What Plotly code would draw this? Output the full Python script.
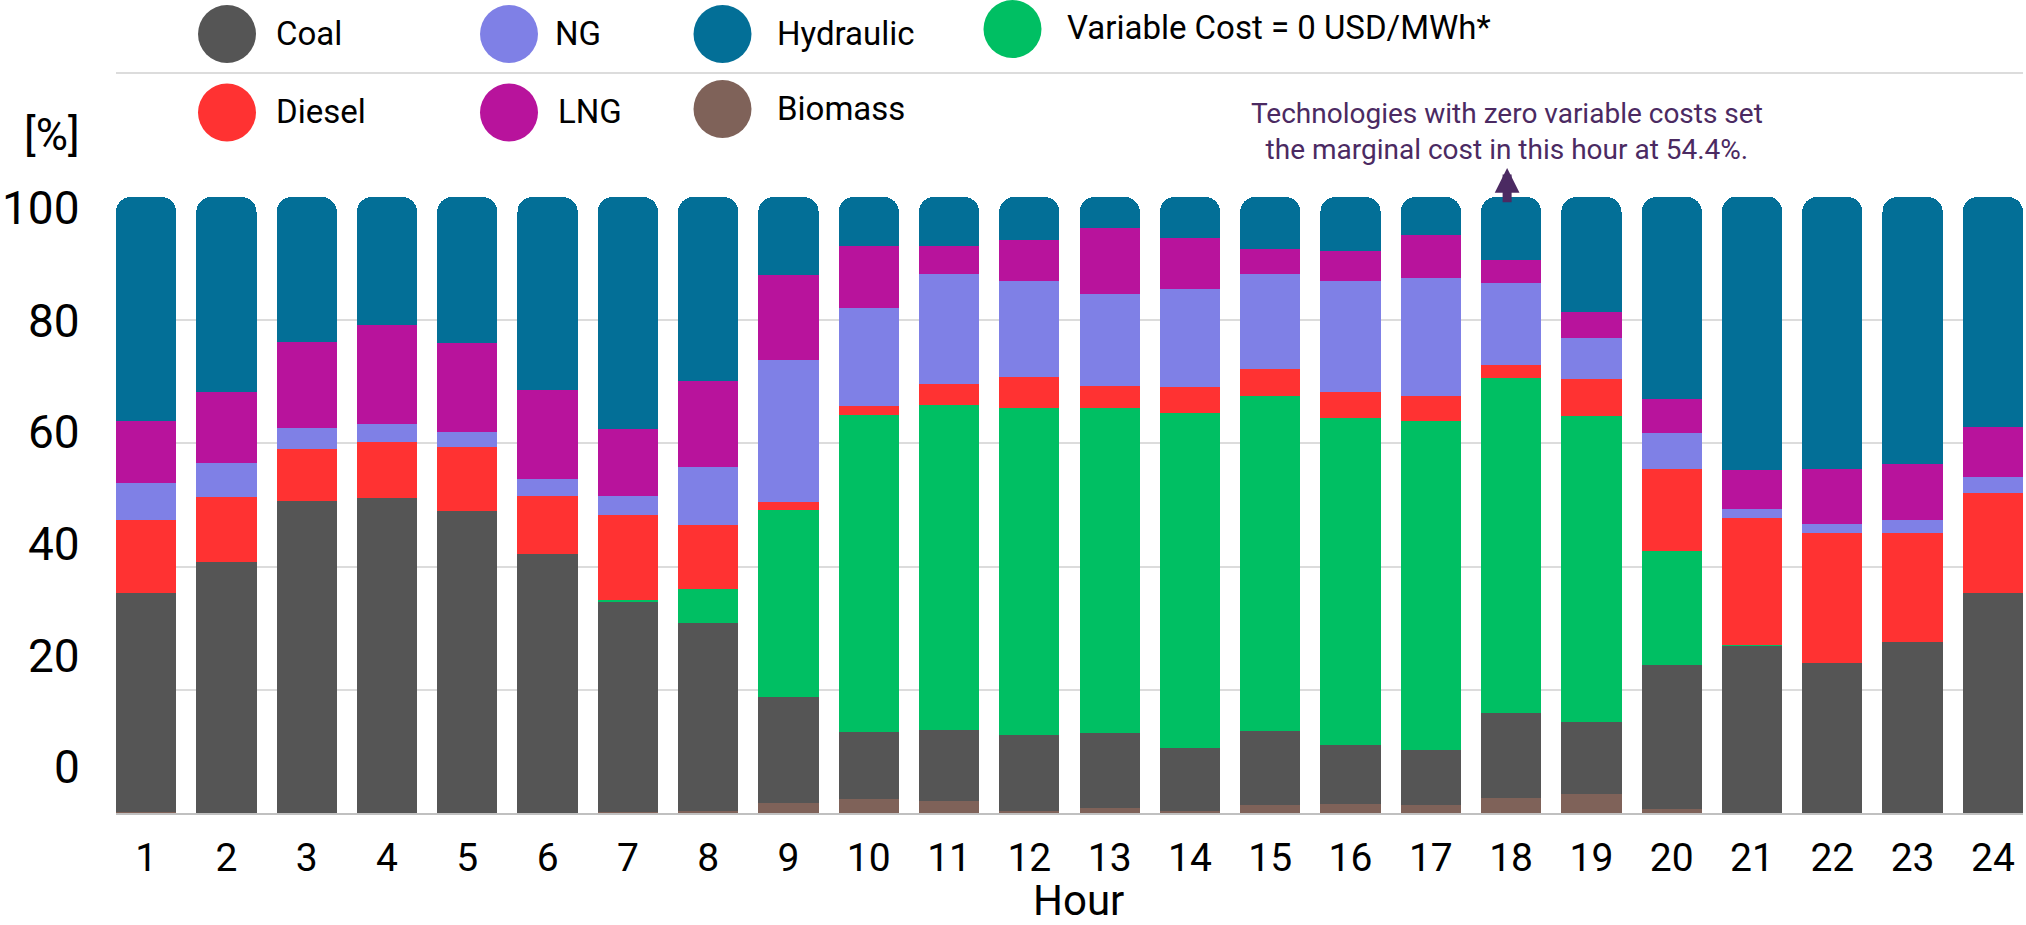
import plotly.graph_objects as go

# ---------------- data ----------------
hours = list(range(1, 25))
series_names = ["Biomass", "Coal", "Variable Cost = 0 USD/MWh*", "Diesel", "NG", "LNG", "Hydraulic"]

biomass = [0.1, 0, 0, 0, 0, 0, 0.1, 0.3, 1.7, 2.2, 1.9, 0.3, 0.8, 0.3, 1.3, 1.5, 1.3, 2.4, 3.1, 0.6, 0, 0, 0, 0]
coal = [35.6, 40.7, 50.6, 51.2, 49.0, 42.1, 34.2, 30.6, 17.1, 11.0, 11.6, 12.4, 12.2, 10.3, 12.0, 9.6, 9.0, 13.8, 11.7, 23.5, 27.2, 24.3, 27.7, 35.7]
vc0 = [0, 0, 0, 0, 0, 0, 0.3, 5.4, 30.4, 51.4, 52.8, 53.0, 52.7, 54.4, 54.4, 53.0, 53.4, 54.4, 49.6, 18.4, 0.1, 0, 0, 0]
diesel = [11.8, 10.6, 8.5, 9.1, 10.4, 9.4, 13.8, 10.4, 1.3, 1.4, 3.4, 5.1, 3.7, 4.1, 4.3, 4.2, 4.0, 2.2, 6.0, 13.3, 20.6, 21.1, 17.7, 16.2]
ng = [6.1, 5.6, 3.4, 2.8, 2.5, 2.7, 3.1, 9.4, 23.0, 16.0, 17.8, 15.5, 14.9, 16.0, 15.5, 18.0, 19.2, 13.2, 6.7, 5.9, 1.4, 1.5, 2.1, 2.7]
lng = [10.1, 11.4, 13.9, 16.1, 14.4, 14.4, 10.8, 14.0, 13.9, 10.1, 4.6, 6.7, 10.6, 8.3, 4.0, 5.0, 7.0, 3.7, 4.2, 5.5, 6.4, 9.0, 9.1, 8.0]
hydraulic = [36.3, 31.7, 23.6, 20.8, 23.7, 31.4, 37.7, 29.9, 12.6, 7.9, 7.9, 7.0, 5.1, 6.6, 8.5, 8.7, 6.1, 10.3, 18.7, 32.8, 44.4, 44.1, 43.4, 37.4]

series_values = [biomass, coal, vc0, diesel, ng, lng, hydraulic]
y_ticks = [0, 20, 40, 60, 80, 100]
y_tick_text = ["0", "20", "40", "60", "80", "100"]
marginal_hour = 18
marginal_share = 54.4

# ---------------- styles ----------------
colors = {
    "Biomass": "#7f6259",
    "Coal": "#555555",
    "Variable Cost = 0 USD/MWh*": "#00bf63",
    "Diesel": "#ff3232",
    "NG": "#7f80e6",
    "LNG": "#b8139c",
    "Hydraulic": "#036f97",
}
FONT = "Roboto"
W, H = 2026, 925
L, R, T, B = 116, 3, 197, 112
PW, PH = W - L - R, H - T - B


def px_x(px):
    return (px - L) / PW


def px_y(py):
    return (H - B - py) / PH


fig = go.Figure()
for name, vals in zip(series_names, series_values):
    fig.add_trace(go.Bar(
        x=hours, y=vals, name=name,
        marker=dict(color=colors[name], line=dict(width=0)),
        showlegend=False,
    ))

# ---------------- custom legend ----------------
legend_items = [
    ("Coal", 227, 34, 274, 33),
    ("NG", 509, 34, 553, 33),
    ("Hydraulic", 722.5, 34, 775, 33),
    ("Variable Cost = 0 USD/MWh*", 1012.5, 29, 1065, 27),
    ("Diesel", 227, 112.5, 274, 111),
    ("LNG", 509, 112.5, 556, 111),
    ("Biomass", 722.5, 109, 775, 108),
]
shapes = []
annotations = []
for name, cx, cy, tx, ty in legend_items:
    shapes.append(dict(
        type="circle", xref="paper", yref="paper",
        xsizemode="pixel", ysizemode="pixel",
        xanchor=px_x(cx), yanchor=px_y(cy),
        x0=-29, x1=29, y0=-29, y1=29,
        fillcolor=colors[name], line=dict(width=0), layer="above",
    ))
    annotations.append(dict(
        text=name, xref="paper", yref="paper", x=px_x(tx), y=px_y(ty),
        xanchor="left", yanchor="middle", showarrow=False,
        font=dict(family=FONT, size=33, color="#000000"),
    ))

# separator line between the legend rows
shapes.append(dict(
    type="line", xref="paper", yref="paper",
    x0=0, x1=1, y0=px_y(73), y1=px_y(73),
    line=dict(color="#dcdcdc", width=2),
))

# y tick labels: in the reference they sit on a slightly compressed scale
# relative to the gridlines (label pixel centres)
y_label_px = [767, 656, 544, 432, 320.5, 207.5]
for txt, py in zip(y_tick_text, y_label_px):
    annotations.append(dict(
        text=txt, xref="paper", yref="paper", x=px_x(82), y=px_y(py),
        xanchor="right", yanchor="middle", showarrow=False,
        font=dict(family=FONT, size=46, color="#000000"),
    ))

# [%] unit label
annotations.append(dict(
    text="[%]", xref="paper", yref="paper", x=px_x(82), y=px_y(135),
    xanchor="right", yanchor="middle", showarrow=False,
    font=dict(family=FONT, size=44, color="#000000"),
))

# Hour axis title
annotations.append(dict(
    text="Hour", xref="paper", yref="paper", x=px_x(1078), y=px_y(900),
    xanchor="center", yanchor="middle", showarrow=False,
    font=dict(family=FONT, size=42, color="#000000"),
))

# callout text and arrow
annotations.append(dict(
    text=f"Technologies with zero variable costs set<br>the marginal cost in this hour at {marginal_share}%.",
    xref="x", yref="paper", x=marginal_hour - 0.05, y=px_y(131.5),
    xanchor="center", yanchor="middle", showarrow=False, align="center",
    font=dict(family=FONT, size=28, color="#4b2a62"),
))
annotations.append(dict(
    text="", xref="x", yref="y", x=marginal_hour - 0.05, y=104.7,
    axref="x", ayref="y", ax=marginal_hour - 0.05, ay=98.9,
    showarrow=True, arrowhead=2, arrowsize=0.55, arrowwidth=9,
    arrowcolor="#4b2a62", standoff=0, startstandoff=0,
))

fig.update_layout(
    width=W, height=H,
    margin=dict(l=L, r=R, t=T, b=B, pad=0),
    paper_bgcolor="white", plot_bgcolor="white",
    barmode="stack", bargap=0.25, barcornerradius=15,
    font=dict(family=FONT, color="#000000"),
    showlegend=False,
    shapes=shapes, annotations=annotations,
    xaxis=dict(
        range=[0.625, 24.375], tickvals=hours, ticktext=[str(h) for h in hours],
        showgrid=False, zeroline=False, showline=True, linecolor="#c0c0c0", linewidth=1.5,
        ticks="", tickfont=dict(family=FONT, size=39, color="#000000"),
        ticklabelstandoff=9,
    ),
    yaxis=dict(
        range=[0, 100], tickvals=y_ticks, showticklabels=False,
        showgrid=True, gridcolor="#dcdcdc", gridwidth=2, zeroline=False, ticks="",
    ),
)

fig.write_html("out.html")
